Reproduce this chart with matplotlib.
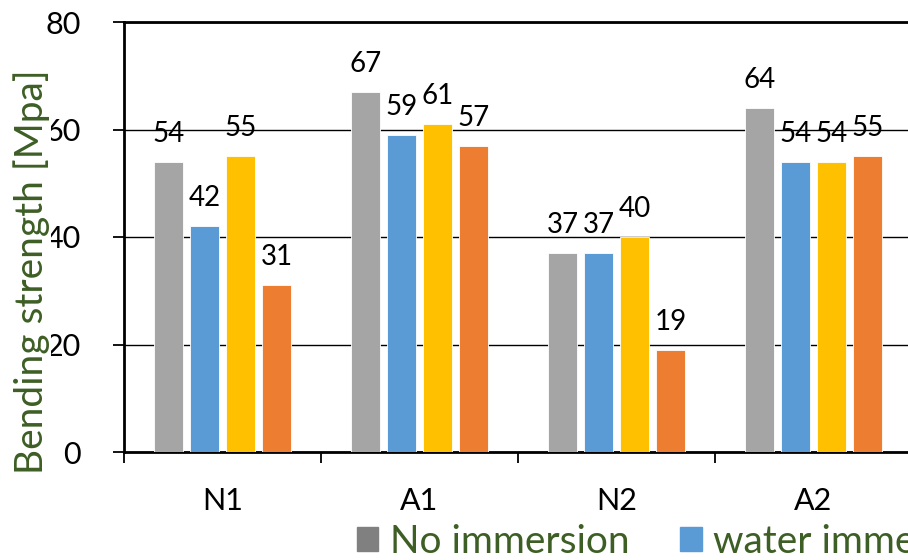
import numpy as np
import matplotlib.pyplot as plt
from matplotlib.patches import Patch

plt.rcParams['font.family'] = ['Lato', 'DejaVu Sans']

# bending strength per sample and treatment
samples = ["N1", "A1", "N2", "A2"]
no_immersion = [54, 67, 37, 64]
water_immersion = [42, 59, 37, 54]
series_3 = [55, 61, 40, 54]
series_4 = [31, 57, 19, 55]

series = [no_immersion, water_immersion, series_3, series_4]
colors = ["#A5A5A5", "#5B9BD5", "#FFC000", "#ED7D31"]
green = "#3D5E24"

fig = plt.figure(figsize=(9.08, 5.6), dpi=100)
ax = fig.add_axes([124 / 908, 108 / 560, 788 / 908, 430 / 560])

x = np.arange(len(samples))
step, width = 0.183, 0.147
for i, (vals, c) in enumerate(zip(series, colors)):
    pos = x + (i - 1.5) * step
    ax.bar(pos, vals, width, color=c, edgecolor="white", linewidth=0.6, zorder=3)
    for px, v in zip(pos, vals):
        ax.annotate(f"{v}", (px, v), xytext=(0, 15), textcoords="offset pixels",
                    ha="center", va="bottom", fontsize=20, color="black", zorder=4)

ax.set_xlim(-0.5, 3.5)
ax.set_ylim(0, 80)
ax.set_yticks([0, 20, 40, 60, 80])
ax.yaxis.grid(True, color="black", linewidth=1.0, zorder=0)
ax.set_axisbelow(True)

ax.set_xticks(x)
ax.set_xticklabels(samples)
ax.set_xticks(np.arange(-0.5, 4.0, 1.0), minor=True)
ax.tick_params(axis="x", which="major", length=0, pad=25, labelsize=22)
ax.tick_params(axis="x", which="minor", length=8, width=1.3, direction="out")
ax.tick_params(axis="y", length=8, width=1.3, pad=23, labelsize=22)

for side in ("left", "bottom"):
    ax.spines[side].set_linewidth(2)
ax.spines["top"].set_linewidth(2)
ax.spines["right"].set_visible(False)

# axis title sits on a white box that nicks the left edge of the tick numbers
ax.set_ylabel("Bending strength [Mpa]", fontsize=28, color=green,
              bbox=dict(facecolor="white", edgecolor="none", pad=0.5))
ax.yaxis.set_label_coords(-0.094, 0.42)

handles = [Patch(color="#808080"), Patch(color=colors[1])]
leg = fig.legend(handles, ["No immersion", "water immersion"], loc="lower left",
                 bbox_to_anchor=(322 / 908, -0.062), ncol=2, frameon=False,
                 fontsize=28, handlelength=0.55, handleheight=0.55,
                 handletextpad=0.3, columnspacing=1.3)
for t in leg.get_texts():
    t.set_color(green)

fig.savefig("out.png", dpi=100)
